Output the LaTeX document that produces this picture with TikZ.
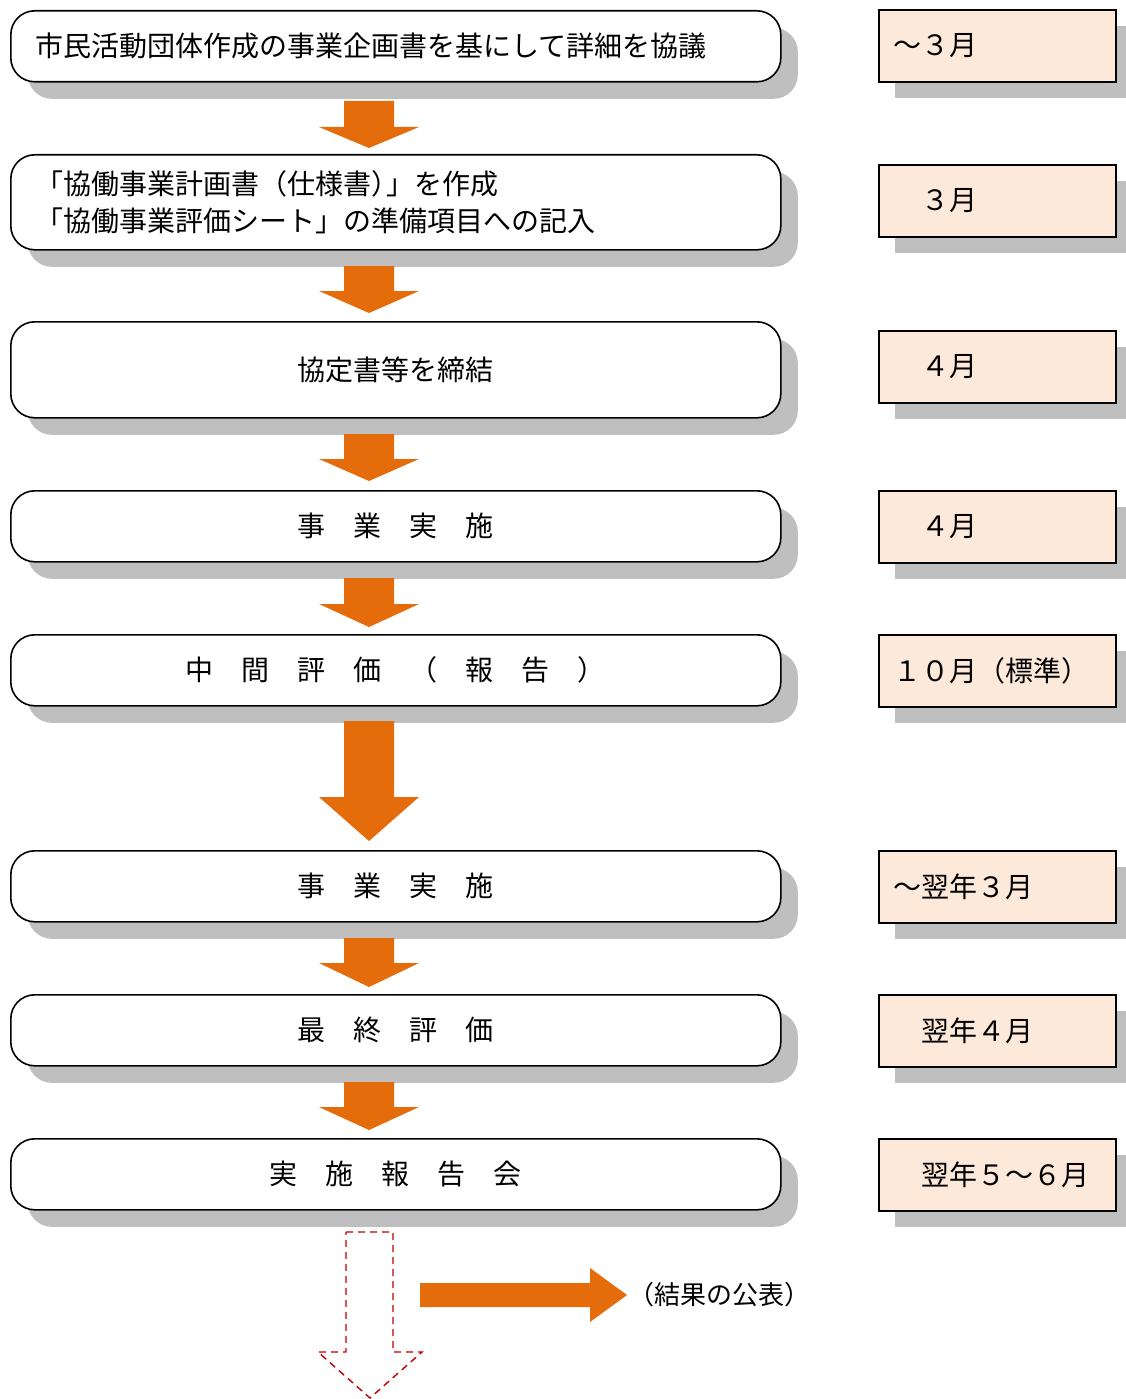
\documentclass[tikz,border=0pt]{standalone}
\usepackage{fontspec}
\newfontfamily\jpf{Noto Sans CJK JP}
\usetikzlibrary{shadows,calc}
\definecolor{orangec}{HTML}{E46C0A}
\definecolor{peach}{HTML}{FDE9D9}
\definecolor{shadowc}{HTML}{BFBFBF}
\definecolor{redd}{HTML}{C00000}
\newcommand{\blockdown}[3]{\fill[orangec] (344,#1) -- (394,#1) -- (394,#2) -- (419,#2) -- (369,#3) -- (319,#2) -- (344,#2) -- cycle;}
\begin{document}
\begin{tikzpicture}[x=1pt,y=-1pt,
  lbox/.style={draw=black, line width=1.6pt, rounded corners=24pt, fill=white,
    minimum width=770pt, minimum height=71pt, inner xsep=25pt, inner ysep=0pt,
    text width=720pt, align=center, anchor=north west,
    font=\jpf\fontsize{28}{37}\selectfont,
    general shadow={fill=shadowc, shadow xshift=17pt, shadow yshift=-17pt}},
  rbox/.style={draw=black, line width=1.6pt, fill=peach,
    minimum width=237pt, minimum height=72pt, inner xsep=15pt, inner ysep=0pt,
    text width=207pt, align=left, anchor=north west,
    font=\jpf\fontsize{28}{37}\selectfont,
    general shadow={fill=shadowc, shadow xshift=16pt, shadow yshift=-16pt}}]
\useasboundingbox (0,0) rectangle (1125,1399);
\fill[white] (0,0) rectangle (1125,1399);

% left boxes
\node[lbox, align=left] (b1) at (10,10) {市民活動団体作成の事業企画書を基にして詳細を協議};
\node[lbox, align=left, minimum height=95pt] (b2) at (10,154) {「協働事業計画書（仕様書）\kern-13pt」を作成\\「協働事業評価シート」の準備項目への記入};
\node[lbox, minimum height=96pt] (b3) at (10,321) {協定書等を締結};
\node[lbox] (b4) at (10,490) {事　業　実　施};
\node[lbox] (b5) at (10,634) {中　間　評　価　（　報　告　）};
\node[lbox] (b6) at (10,850) {事　業　実　施};
\node[lbox] (b7) at (10,994) {最　終　評　価};
\node[lbox] (b8) at (10,1138) {実　施　報　告　会};

% right boxes
\node[rbox] (r1) at (878,9) {～３月};
\node[rbox] (r2) at (878,164) {　３月};
\node[rbox] (r3) at (878,330) {　４月};
\node[rbox] (r4) at (878,490) {　４月};
\node[rbox] (r5) at (878,634) {１０月（標準）};
\node[rbox] (r6) at (878,850) {～翌年３月};
\node[rbox] (r7) at (878,994) {　翌年４月};
\node[rbox] (r8) at (878,1138) {　翌年５～６月};

% orange block arrows
\blockdown{101}{127}{148}
\blockdown{266}{291}{313}
\blockdown{434}{459}{481}
\blockdown{578}{604}{627}
\blockdown{721}{797}{841}
\blockdown{938}{963}{987}
\blockdown{1082}{1107}{1130}

% dashed red arrow
\draw[redd, line width=1.4pt, dash pattern=on 7pt off 5pt]
  (346,1232) -- (393,1232) -- (393,1352) -- (422,1352) -- (370,1398) -- (318,1352) -- (346,1352) -- cycle;

% right orange arrow
\fill[orangec] (420,1283) -- (590,1283) -- (590,1268) -- (627,1295) -- (590,1322) -- (590,1307) -- (420,1307) -- cycle;
\node[anchor=west, inner sep=0pt, font=\jpf\fontsize{26}{30}\selectfont] (pub) at (628,1295) {（結果の公表）};
\end{tikzpicture}
\end{document}
